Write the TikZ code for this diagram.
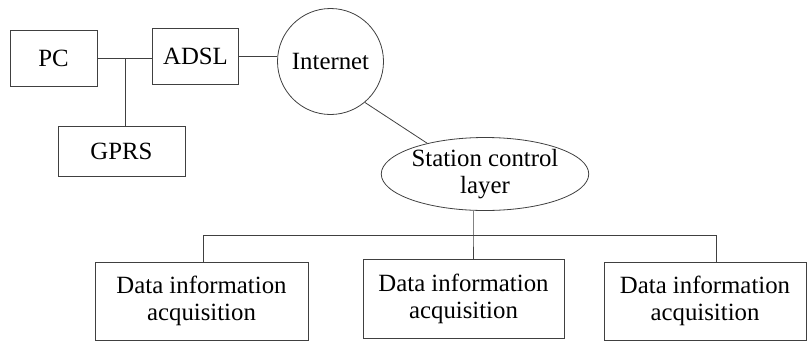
\documentclass[tikz,border=0pt]{standalone}
\usepackage{fontspec}
\setmainfont{Liberation Serif}
\usetikzlibrary{shapes.geometric}

\begin{document}
\begin{tikzpicture}
	[x=0.5pt,y=-0.5pt,every node/.style={draw=black!75,line width=0.4pt,inner sep=0pt,align=center,font=\fontsize{12.4}{13.5}\selectfont},
	box/.style={rectangle},
	link/.style={draw=black!75,line width=0.4pt}]
	\useasboundingbox (0,0) rectangle (807,343);
	\node[box,minimum width=43.5pt,minimum height=28pt] (pc)   at (53.5,58)  {PC};
	\node[box,minimum width=43pt,minimum height=28pt]   (adsl) at (195.5,56) {ADSL};
	\node[box,minimum width=63.5pt,minimum height=25pt] (gprs) at (121.5,151) {GPRS};
	\node[circle,minimum size=53pt] (inet) at (330.5,61.5) {Internet};
	\node[ellipse,minimum width=101pt,minimum height=36.5pt] (scl) at (485,174) {Station control\\layer};
	\node[box,minimum width=106.5pt,minimum height=39pt] (dia1) at (201.5,301) {Data information\\acquisition};
	\node[box,minimum width=100.5pt,minimum height=39.5pt] (dia2) at (463.5,298.5) {Data information\\acquisition};
	\node[box,minimum width=101pt,minimum height=39pt] (dia3) at (705,301) {Data information\\acquisition};
	
	\coordinate (jn)   at (125,58);
	\coordinate (tap)  at (473,235);
	\coordinate (busL) at (203,235);
	\coordinate (busR) at (716,235);
	
	\draw[link] (pc) -- (pc -| adsl.west);
	\draw[link] (jn) -- (jn |- gprs.north);
	\draw[link] (adsl) -- (adsl -| inet.west);
	\draw[link] (inet.-50) -- (scl.152);
	\draw[link] (scl.south -| tap) -- (tap) -- (tap |- dia2.north);
	\draw[link] (dia1.north -| busL) -- (busL) -- (busR) -- (dia3.north -| busR);
	
\end{tikzpicture}
\end{document}
